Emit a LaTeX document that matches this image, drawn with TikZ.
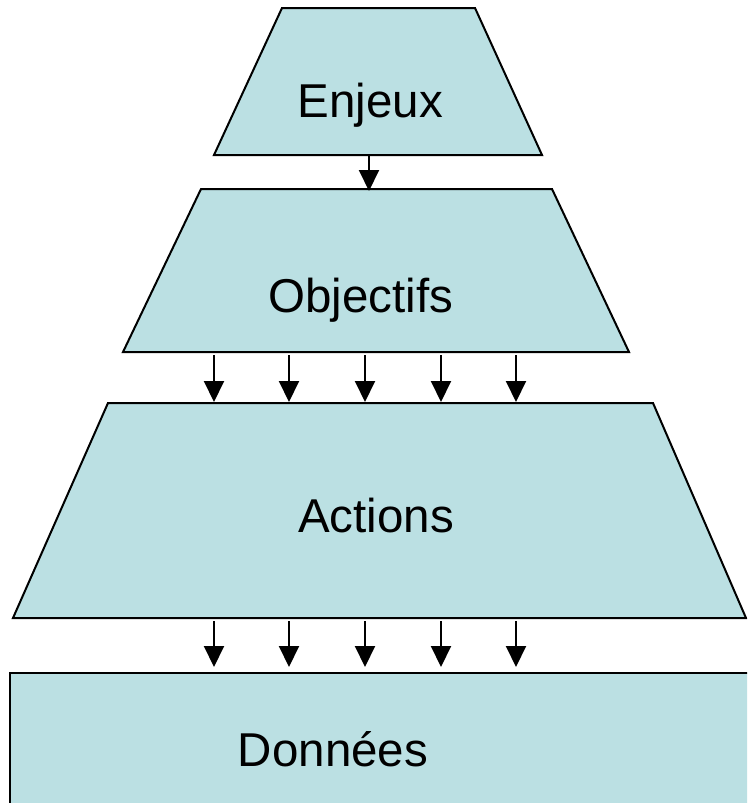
\documentclass[tikz,border=0pt]{standalone}
\usepackage{fontspec}
\setmainfont{Liberation Sans}
\usetikzlibrary{arrows.meta}
\definecolor{boxfill}{HTML}{BBE0E3}
\begin{document}
\begin{tikzpicture}[x=1pt,y=-1pt,
  layer/.style={fill=boxfill,draw=black,line width=2pt,line join=miter},
  caption/.style={font=\fontsize{47.5}{50}\selectfont,anchor=base,inner sep=0pt,text=black},
  link/.style={line width=2pt,-{Triangle[length=21pt,width=20pt]}}]
\useasboundingbox (0,0) rectangle (747,803);
\clip (0,0) rectangle (747,803);
% layers
\path[layer] (282,8) -- (475,8) -- (542,155) -- (214,155) -- cycle;
\path[layer] (201,189) -- (552,189) -- (629,352) -- (123,352) -- cycle;
\path[layer] (108,403) -- (653,403) -- (746,618) -- (13,618) -- cycle;
\path[layer] (10,673) rectangle (780,830);
% labels
\node[caption] (enjeux) at (370.5,117) {Enjeux};
\node[caption] (objectifs) at (361,312) {Objectifs};
\node[caption] (actions) at (376,532) {Actions};
\node[caption] (donnees) at (333,766) {Données};
% connector end points
\coordinate (e0) at (369,155); \coordinate (e1) at (369,191);
\foreach \i/\x in {1/214,2/289,3/365,4/441,5/516}{
  \coordinate (oa\i) at (\x,355); \coordinate (ob\i) at (\x,402);
  \coordinate (aa\i) at (\x,621); \coordinate (ab\i) at (\x,667);
}
\draw[link] (e0) -- (e1);
\foreach \i in {1,...,5}{
  \draw[link] (oa\i) -- (ob\i);
  \draw[link] (aa\i) -- (ab\i);
}
\end{tikzpicture}
\end{document}
